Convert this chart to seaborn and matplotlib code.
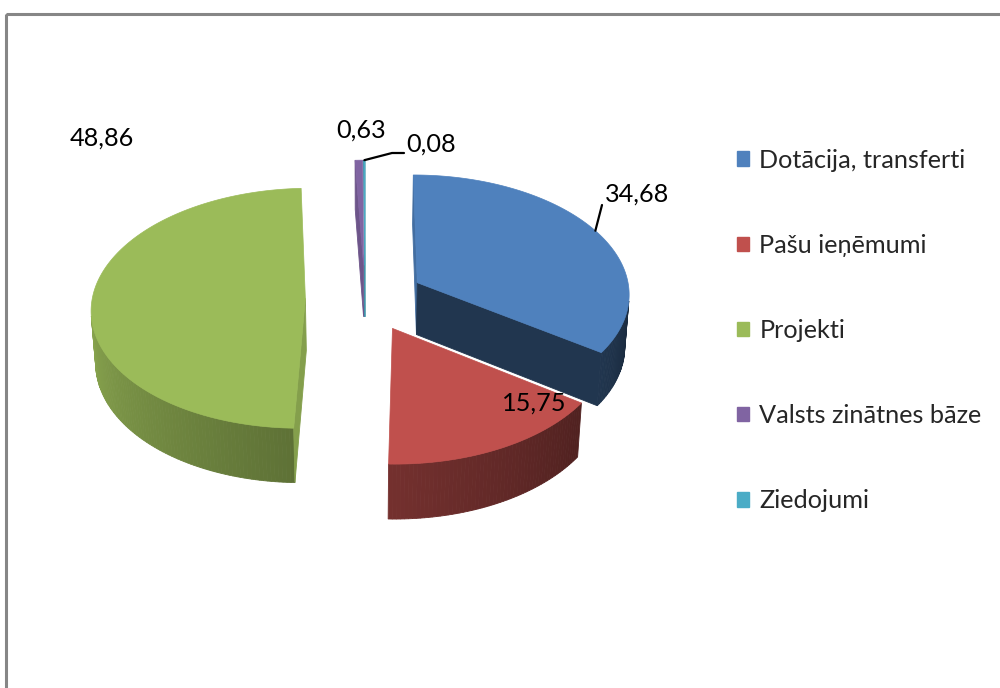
import numpy as np
import matplotlib
matplotlib.use("Agg")
import matplotlib.pyplot as plt
from matplotlib import font_manager
from matplotlib.patches import Polygon, Rectangle, Patch
import seaborn as sns

# data
categories = ["Dotācija, transferti", "Pašu ieņēmumi", "Projekti",
              "Valsts zinātnes bāze", "Ziedojumi"]
values = [34.68, 15.75, 48.86, 0.63, 0.08]
value_labels = ["34,68", "15,75", "48,86", "0,63", "0,08"]
colors = sns.color_palette(["#4F81BD", "#C0504D", "#9BBB59", "#8064A2", "#4BACC6"])

sns.set_theme(style="white")


def pick_font(options):
    for name, size in options:
        try:
            font_manager.findfont(name, fallback_to_default=False)
            return name, size
        except ValueError:
            pass
    return "DejaVu Sans", 16


font_name, font_size = pick_font([("Liberation Sans Narrow", 21), ("Lato", 18.2)])
plt.rcParams["font.family"] = [font_name, "DejaVu Sans"]

fig = plt.figure(figsize=(10, 6.88), dpi=100)
ax = fig.add_axes([0, 0, 1, 1])
ax.set_xlim(0, 1000)
ax.set_ylim(688, 0)
ax.axis("off")

# outer chart frame (runs off the right and bottom edges)
ax.add_patch(Rectangle((6, 14), 1100, 800, fill=False, edgecolor="#868686", lw=2.2))

# simple 3D pie: tilt + perspective projection
TILT = np.radians(34)
DIST = 10.0
THICK = 0.30
EXPLODE = 0.28
SCALE = 213
CX, CY = 365, 298
cam = DIST * np.array([0.0, np.cos(TILT), np.sin(TILT)])


def project(p):
    x, y, z = p
    v = z * np.cos(TILT) - y * np.sin(TILT)
    w = y * np.cos(TILT) + z * np.sin(TILT)
    s = DIST / (DIST - w)
    return CX + SCALE * x * s, CY - SCALE * v * s


def direction(deg):
    a = np.radians(deg)
    return np.array([np.sin(a), -np.cos(a), 0.0])


def shade(c, f):
    return tuple(np.clip(np.array(c) * f, 0, 1))


def wall_factor(deg):
    return float(np.clip(0.6 + ((deg % 360) - 180) / 300, 0.3, 0.95))


fractions = np.array(values) / np.sum(values)
ends = np.cumsum(fractions) * 360
starts = ends - fractions * 360
down = np.array([0, 0, -THICK])

slices = []
for i in range(len(values)):
    a0, a1 = starts[i], ends[i]
    mid = (a0 + a1) / 2
    origin = EXPLODE * direction(mid)
    depth = origin[1] * np.cos(TILT)
    slices.append((depth, i, a0, a1, mid, origin))

label_anchor = {}
for depth, i, a0, a1, mid, origin in sorted(slices):
    col = colors[i]
    faces = []
    n = max(2, int(np.ceil(a1 - a0)))
    arc = np.linspace(a0, a1, n + 1)
    rim = [origin + direction(t) for t in arc]
    # outer wall strips
    for k in range(n):
        pts = [rim[k], rim[k + 1], rim[k + 1] + down, rim[k] + down]
        nrm = direction((arc[k] + arc[k + 1]) / 2)
        faces.append((pts, nrm, shade(col, wall_factor((arc[k] + arc[k + 1]) / 2))))
    # radial cut faces
    for edge, nd in ((a0, a0 - 90), (a1, a1 + 90)):
        p = origin + direction(edge)
        pts = [origin, p, p + down, origin + down]
        nrm = direction(nd)
        f = 0.42 if nrm[1] > 0.3 else 0.85
        faces.append((pts, nrm, shade(col, f)))
    for pts, nrm, fc in faces:
        centre = np.mean(pts, axis=0)
        if np.dot(cam - centre, nrm) <= 0:
            continue
        ax.add_patch(Polygon([project(p) for p in pts], closed=True,
                             facecolor=fc, edgecolor=fc, lw=0.6))
    top = [origin] + rim
    ax.add_patch(Polygon([project(p) for p in top], closed=True,
                         facecolor=col, edgecolor=col, lw=0.5))
    label_anchor[i] = project(origin + direction(mid))

# data labels
label_pos = [(637, 194), (534, 403), (102, 138), (361, 130), (431, 144)]
for i, txt in enumerate(value_labels):
    ax.text(*label_pos[i], txt, ha="center", va="center", fontsize=font_size, color="black")

# leader lines for the blue and cyan labels
bx, by = label_anchor[0]
ax.plot([bx, 602], [by, 205], color="black", lw=1.6)
cx_, cy_ = label_anchor[4]
ax.plot([cx_, 392, 404], [cy_, 153, 153], color="black", lw=1.6)

handles = [Patch(facecolor=colors[i], edgecolor=colors[i], label=categories[i])
           for i in range(len(categories))]
ax.legend(handles=handles, loc="upper left", bbox_to_anchor=(0.724, 1 - 136 / 688),
          frameon=False, fontsize=font_size, labelspacing=2.46,
          handlelength=0.5, handleheight=0.5, handletextpad=0.4, borderpad=0)

fig.savefig("out.png", dpi=100)
